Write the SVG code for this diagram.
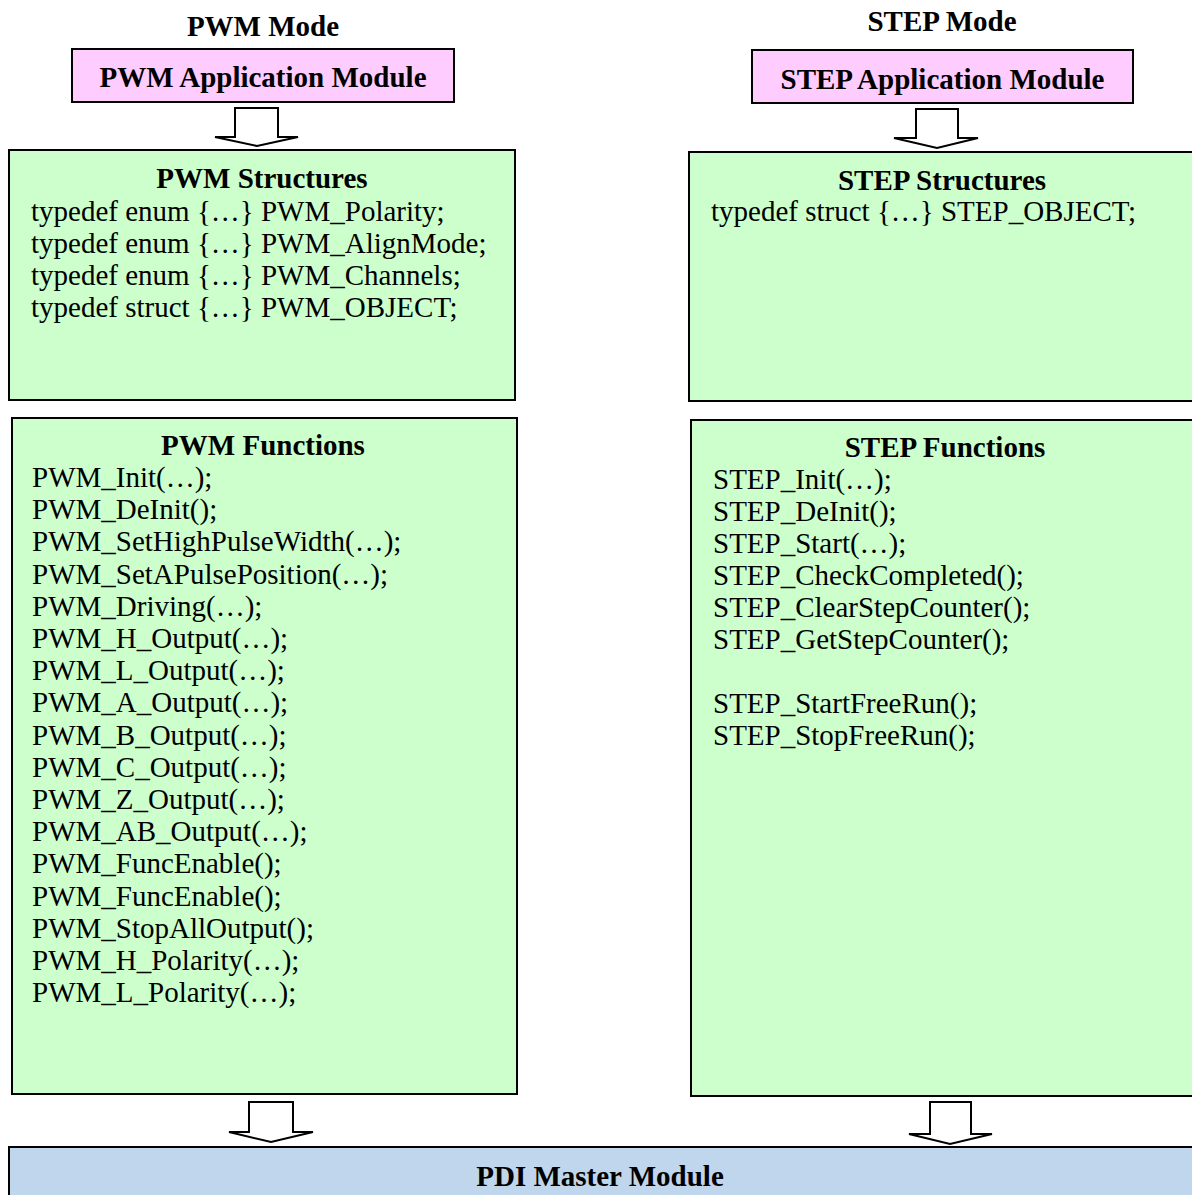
<svg xmlns="http://www.w3.org/2000/svg" width="1192" height="1195" viewBox="0 0 1192 1195">
<style>
text{font-family:"Liberation Serif","Times New Roman",serif;font-size:29px;fill:#000}
.b{font-weight:bold}
.c{text-anchor:middle}
.box{stroke:#000;stroke-width:2}
.pink{fill:#FFCCFF}
.green{fill:#CCFFCC}
.blue{fill:#BFD6EC}
.arr{fill:#fff;stroke:#000;stroke-width:2;stroke-linejoin:miter}
</style>
<g id="pwm-mode"><text class="b c" x="263" y="36">PWM Mode</text></g>
<g id="step-mode"><text class="b c" x="942" y="31">STEP Mode</text></g>
<g id="pwm-app">
<rect class="box pink" x="72" y="49" width="382" height="53"/>
<text class="b c" x="263" y="87">PWM Application Module</text>
</g>
<g id="step-app">
<rect class="box pink" x="752" y="50" width="381" height="53"/>
<text class="b c" x="942.5" y="89">STEP Application Module</text>
</g>
<g id="pwm-structures">
<rect class="box green" x="9" y="150" width="506" height="250"/>
<text class="b c" x="262" y="188">PWM Structures</text>
<text x="31" y="221">typedef enum {…} PWM_Polarity;</text>
<text x="31" y="253">typedef enum {…} PWM_AlignMode;</text>
<text x="31" y="285">typedef enum {…} PWM_Channels;</text>
<text x="31" y="317">typedef struct {…} PWM_OBJECT;</text>
</g>
<g id="step-structures">
<rect class="box green" x="689" y="152" width="510" height="249"/>
<text class="b c" x="942" y="190">STEP Structures</text>
<text x="711" y="221">typedef struct {…} STEP_OBJECT;</text>
</g>
<g id="pwm-functions">
<rect class="box green" x="12" y="418" width="505" height="676"/>
<text class="b c" x="263" y="455">PWM Functions</text>
<text x="32" y="487">PWM_Init(…);</text>
<text x="32" y="519.2">PWM_DeInit();</text>
<text x="32" y="551.4">PWM_SetHighPulseWidth(…);</text>
<text x="32" y="583.6">PWM_SetAPulsePosition(…);</text>
<text x="32" y="615.8">PWM_Driving(…);</text>
<text x="32" y="648">PWM_H_Output(…);</text>
<text x="32" y="680.2">PWM_L_Output(…);</text>
<text x="32" y="712.4">PWM_A_Output(…);</text>
<text x="32" y="744.6">PWM_B_Output(…);</text>
<text x="32" y="776.8">PWM_C_Output(…);</text>
<text x="32" y="809">PWM_Z_Output(…);</text>
<text x="32" y="841.2">PWM_AB_Output(…);</text>
<text x="32" y="873.4">PWM_FuncEnable();</text>
<text x="32" y="905.6">PWM_FuncEnable();</text>
<text x="32" y="937.8">PWM_StopAllOutput();</text>
<text x="32" y="970">PWM_H_Polarity(…);</text>
<text x="32" y="1002.2">PWM_L_Polarity(…);</text>
</g>
<g id="step-functions">
<rect class="box green" x="691" y="420" width="510" height="676"/>
<text class="b c" x="945" y="457">STEP Functions</text>
<text x="713" y="489">STEP_Init(…);</text>
<text x="713" y="521">STEP_DeInit();</text>
<text x="713" y="553">STEP_Start(…);</text>
<text x="713" y="585">STEP_CheckCompleted();</text>
<text x="713" y="617">STEP_ClearStepCounter();</text>
<text x="713" y="649">STEP_GetStepCounter();</text>
<text x="713" y="713">STEP_StartFreeRun();</text>
<text x="713" y="745">STEP_StopFreeRun();</text>
</g>
<g id="pdi-master">
<rect class="box blue" x="9" y="1147" width="1192" height="60"/>
<text class="b c" x="600" y="1186">PDI Master Module</text>
</g>
<g id="connectors">
<path class="arr" d="M235,108 V137 H215 L257,146 L298,137 H278 V108 Z"/>
<path class="arr" d="M916,109 V138 H894 L937,148 L978,138 H958 V109 Z"/>
<path class="arr" d="M249,1102 V1132 H229 L271,1142 L313,1132 H293 V1102 Z"/>
<path class="arr" d="M930,1102 V1134 H909 L950,1144 L992,1134 H971 V1102 Z"/>
</g>
</svg>
